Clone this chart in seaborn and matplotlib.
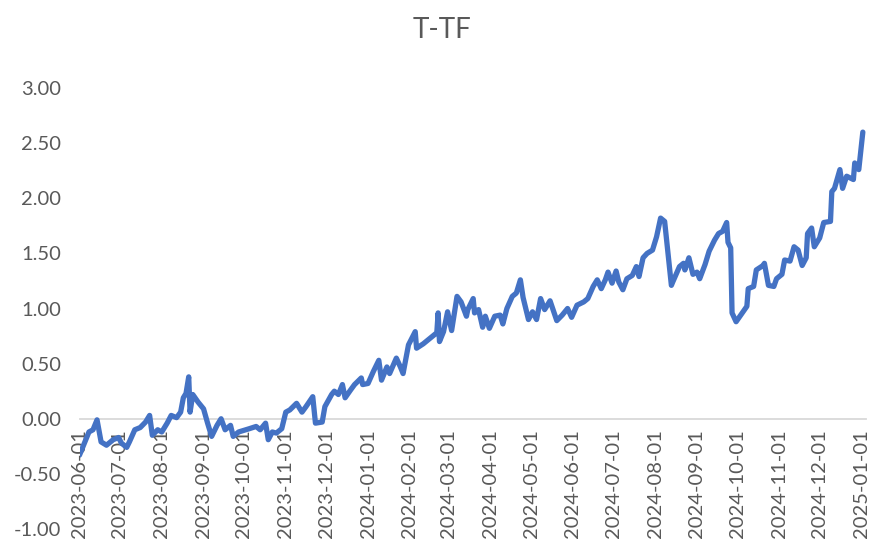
import matplotlib
matplotlib.use("Agg")
import matplotlib.pyplot as plt
import matplotlib.dates as mdates
import matplotlib.ticker as mticker
import seaborn as sns
import pandas as pd

title = "T-TF"

dates = [
    "2023-06-01", "2023-06-04", "2023-06-08", "2023-06-11", "2023-06-14", "2023-06-17", "2023-06-21",
    "2023-06-26", "2023-06-30", "2023-07-02", "2023-07-06", "2023-07-08", "2023-07-12", "2023-07-16",
    "2023-07-20", "2023-07-23", "2023-07-25", "2023-07-29", "2023-08-01", "2023-08-05", "2023-08-08",
    "2023-08-12", "2023-08-15", "2023-08-17", "2023-08-19", "2023-08-21", "2023-08-22", "2023-08-24",
    "2023-08-28", "2023-09-01", "2023-09-04", "2023-09-07", "2023-09-11", "2023-09-14", "2023-09-17",
    "2023-09-21", "2023-09-23", "2023-09-27", "2023-10-05", "2023-10-10", "2023-10-13", "2023-10-17",
    "2023-10-19", "2023-10-22", "2023-10-25", "2023-10-29", "2023-11-01", "2023-11-04", "2023-11-09",
    "2023-11-13", "2023-11-16", "2023-11-21", "2023-11-23", "2023-11-28", "2023-11-30", "2023-12-05",
    "2023-12-07", "2023-12-10", "2023-12-13", "2023-12-15", "2023-12-19", "2023-12-22", "2023-12-27",
    "2023-12-28", "2024-01-01", "2024-01-05", "2024-01-09", "2024-01-11", "2024-01-15", "2024-01-17",
    "2024-01-22", "2024-01-25", "2024-01-27", "2024-01-31", "2024-02-05", "2024-02-06", "2024-02-11",
    "2024-02-21", "2024-02-22", "2024-02-23", "2024-02-26", "2024-02-29", "2024-03-03", "2024-03-07",
    "2024-03-10", "2024-03-14", "2024-03-15", "2024-03-19", "2024-03-20", "2024-03-23", "2024-03-26",
    "2024-03-28", "2024-03-31", "2024-04-04", "2024-04-08", "2024-04-10", "2024-04-13", "2024-04-17",
    "2024-04-20", "2024-04-23", "2024-04-25", "2024-04-29", "2024-05-02", "2024-05-05", "2024-05-08",
    "2024-05-11", "2024-05-15", "2024-05-20", "2024-05-24", "2024-05-28", "2024-05-31", "2024-06-04",
    "2024-06-09", "2024-06-12", "2024-06-16", "2024-06-19", "2024-06-22", "2024-06-25", "2024-06-27",
    "2024-06-30", "2024-07-03", "2024-07-05", "2024-07-08", "2024-07-11", "2024-07-15", "2024-07-18",
    "2024-07-20", "2024-07-23", "2024-07-26", "2024-07-30", "2024-08-02", "2024-08-05", "2024-08-08",
    "2024-08-13", "2024-08-14", "2024-08-19", "2024-08-22", "2024-08-23", "2024-08-26", "2024-08-29",
    "2024-09-01", "2024-09-03", "2024-09-07", "2024-09-10", "2024-09-14", "2024-09-17", "2024-09-20",
    "2024-09-23", "2024-09-24", "2024-09-26", "2024-09-27", "2024-09-30", "2024-10-08", "2024-10-09",
    "2024-10-13", "2024-10-15", "2024-10-20", "2024-10-21", "2024-10-24", "2024-10-28", "2024-10-30",
    "2024-11-03", "2024-11-05", "2024-11-09", "2024-11-12", "2024-11-15", "2024-11-18", "2024-11-21",
    "2024-11-22", "2024-11-25", "2024-11-27", "2024-12-01", "2024-12-04", "2024-12-09", "2024-12-10",
    "2024-12-12", "2024-12-16", "2024-12-18", "2024-12-21", "2024-12-26", "2024-12-27", "2024-12-30",
    "2025-01-02",
]

values = [
    -0.33, -0.24, -0.12, -0.10, -0.01, -0.21, -0.24,
    -0.19, -0.17, -0.22, -0.26, -0.21, -0.10, -0.08,
    -0.03, 0.03, -0.15, -0.10, -0.12, -0.04, 0.03,
    0.01, 0.06, 0.19, 0.23, 0.38, 0.06, 0.22,
    0.15, 0.09, -0.04, -0.16, -0.06, 0.00, -0.10,
    -0.06, -0.16, -0.12, -0.09, -0.07, -0.10, -0.04,
    -0.19, -0.12, -0.13, -0.09, 0.06, 0.08, 0.14,
    0.06, 0.11, 0.20, -0.04, -0.03, 0.11, 0.22,
    0.25, 0.22, 0.31, 0.19, 0.26, 0.31, 0.37,
    0.31, 0.32, 0.43, 0.53, 0.35, 0.47, 0.41,
    0.55, 0.47, 0.41, 0.67, 0.79, 0.64, 0.68,
    0.78, 0.96, 0.70, 0.79, 0.97, 0.80, 1.11,
    1.06, 0.93, 0.99, 1.09, 0.96, 0.99, 0.83,
    0.93, 0.82, 0.93, 0.94, 0.86, 1.00, 1.11,
    1.14, 1.26, 1.10, 0.90, 0.97, 0.90, 1.09,
    0.99, 1.07, 0.89, 0.94, 1.00, 0.92, 1.03,
    1.06, 1.09, 1.20, 1.26, 1.18, 1.26, 1.33,
    1.23, 1.34, 1.24, 1.17, 1.27, 1.30, 1.38,
    1.29, 1.46, 1.50, 1.53, 1.65, 1.82, 1.79,
    1.21, 1.24, 1.38, 1.41, 1.35, 1.46, 1.31,
    1.33, 1.27, 1.40, 1.52, 1.62, 1.68, 1.70,
    1.78, 1.60, 1.55, 0.96, 0.88, 1.02, 1.18,
    1.20, 1.35, 1.39, 1.41, 1.21, 1.20, 1.27,
    1.31, 1.44, 1.43, 1.56, 1.53, 1.39, 1.46,
    1.68, 1.73, 1.56, 1.64, 1.78, 1.79, 2.06,
    2.09, 2.26, 2.09, 2.20, 2.17, 2.32, 2.26,
    2.60,
]

y_ticks = [-1.0, -0.5, 0.0, 0.5, 1.0, 1.5, 2.0, 2.5, 3.0]

df = pd.DataFrame({"date": pd.to_datetime(dates), "value": values})

sns.set_style("white")
plt.rcParams["font.family"] = ["Lato", "DejaVu Sans"]
plt.rcParams["axes.unicode_minus"] = False

text_color = "#595959"
axis_color = "#D9D9D9"

fig = plt.figure(figsize=(8.69, 5.44), dpi=100)
ax = fig.add_axes([0.0915, 0.0276, 0.9045, 0.8106])

sns.lineplot(data=df, x="date", y="value", ax=ax, color="#4472C4",
             linewidth=3.8, solid_joinstyle="round", solid_capstyle="round")

ax.set_ylim(-1.0, 3.0)
ax.set_xlim(pd.Timestamp("2023-06-01"), pd.Timestamp("2025-01-04"))
ax.set_yticks(y_ticks)
ax.yaxis.set_major_formatter(mticker.FormatStrFormatter("%.2f"))

ax.xaxis.set_major_locator(mdates.MonthLocator())
ax.xaxis.set_major_formatter(mdates.DateFormatter("%Y-%m-%d"))

for side in ["top", "right", "left"]:
    ax.spines[side].set_visible(False)
ax.spines["bottom"].set_position(("data", 0))
ax.spines["bottom"].set_color(axis_color)
ax.spines["bottom"].set_linewidth(1.3)
ax.spines["bottom"].set_zorder(0.5)

ax.tick_params(axis="x", direction="out", length=6, width=1.3, color=axis_color,
               labelsize=14.5, labelcolor=text_color, pad=1.5, labelrotation=90)
ax.tick_params(axis="y", length=0, labelsize=14.5, labelcolor=text_color, pad=13)
for lbl in ax.get_xticklabels():
    lbl.set_ha("center")
    lbl.set_va("top")

ax.set_xlabel("")
ax.set_ylabel("")
ax.grid(False)

fig.text(0.509, 0.945, title, ha="center", va="center", fontsize=20, color=text_color)

fig.savefig("out.png", dpi=100)
